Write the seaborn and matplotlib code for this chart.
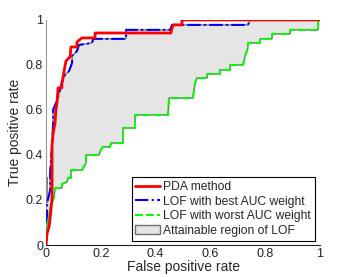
import numpy as np
import pandas as pd
import matplotlib
matplotlib.use("Agg")
import matplotlib.pyplot as plt
import seaborn as sns

# ROC vertices (step curves)
pda_fpr = [0, 0.004, 0.011, 0.015, 0.018, 0.022, 0.022, 0.026, 0.033, 0.036, 0.04, 0.044, 0.058, 0.058,
           0.066, 0.073, 0.088, 0.091, 0.113, 0.113, 0.131, 0.179, 0.179, 0.456, 0.46, 0.464, 0.496, 0.496, 1.0]
pda_tpr = [0, 0.053, 0.08, 0.12, 0.156, 0.209, 0.444, 0.498, 0.542, 0.6, 0.631, 0.698, 0.698, 0.72,
           0.773, 0.818, 0.836, 0.88, 0.88, 0.902, 0.92, 0.92, 0.942, 0.942, 0.964, 0.978, 0.978, 1.0, 1.0]

best_fpr = [0, 0, 0.004, 0.004, 0.011, 0.015, 0.015, 0.018, 0.022, 0.026, 0.026, 0.033, 0.04, 0.051,
            0.058, 0.069, 0.084, 0.095, 0.095, 0.113, 0.12, 0.168, 0.172, 0.292, 0.292, 0.453, 0.46,
            0.737, 0.745, 1.0]
best_tpr = [0, 0.058, 0.102, 0.187, 0.222, 0.244, 0.32, 0.378, 0.444, 0.542, 0.6, 0.622, 0.64, 0.689,
            0.72, 0.756, 0.773, 0.809, 0.84, 0.862, 0.889, 0.898, 0.916, 0.916, 0.956, 0.956, 0.978,
            0.978, 1.0, 1.0]

worst_fpr = [0, 0, 0.007, 0.015, 0.018, 0.029, 0.033, 0.058, 0.058, 0.077, 0.08, 0.091, 0.091, 0.131,
             0.146, 0.146, 0.193, 0.2, 0.208, 0.234, 0.237, 0.281, 0.281, 0.325, 0.325, 0.445, 0.449,
             0.536, 0.544, 0.551, 0.588, 0.588, 0.635, 0.635, 0.672, 0.672, 0.719, 0.726, 0.737, 0.737,
             0.781, 0.781, 0.825, 0.825, 0.891, 0.891, 0.993, 0.993, 1.0]
worst_tpr = [0, 0.076, 0.102, 0.156, 0.178, 0.209, 0.253, 0.253, 0.271, 0.28, 0.298, 0.298, 0.333, 0.333,
             0.364, 0.4, 0.4, 0.422, 0.436, 0.436, 0.453, 0.453, 0.52, 0.52, 0.578, 0.578, 0.653,
             0.653, 0.72, 0.742, 0.742, 0.76, 0.76, 0.778, 0.778, 0.8, 0.8, 0.836, 0.876, 0.898,
             0.898, 0.916, 0.916, 0.938, 0.938, 0.956, 0.956, 0.996, 1.0]

# upper edge of the attainable region (mostly the best curve, steeper near the axis)
upper_fpr = [0, 0, 0.004] + best_fpr[3:]
upper_tpr = [0, 0.25, 0.30] + best_tpr[3:]

sns.set_style("white")
plt.rcParams['font.family'] = ['Liberation Sans', 'DejaVu Sans']

fig = plt.figure(figsize=(3.54, 2.77), dpi=100)
ax = fig.add_axes([0.130, 0.1155, 0.774, 0.8125])

# attainable region polygon: upper edge then lower edge reversed
poly_x = upper_fpr + worst_fpr[::-1]
poly_y = upper_tpr + worst_tpr[::-1]
ax.fill(poly_x, poly_y, facecolor='#e5e5e5', edgecolor='#6e6e6e', linewidth=1.0,
        label='Attainable region of LOF', zorder=1)

sns.lineplot(x=pda_fpr, y=pda_tpr, sort=False, estimator=None, color='#ff0000', lw=2.0,
             label='PDA method', ax=ax, zorder=4)
sns.lineplot(x=best_fpr, y=best_tpr, sort=False, estimator=None, color='#0000ff', lw=1.5,
             linestyle='-.', label='LOF with best AUC weight', ax=ax, zorder=3)
sns.lineplot(x=worst_fpr, y=worst_tpr, sort=False, estimator=None, color='#00ff00', lw=1.5,
             linestyle='--', label='LOF with worst AUC weight', ax=ax, zorder=3)

ax.set_xlim(0, 1)
ax.set_ylim(0, 1)
ticks = [0, 0.2, 0.4, 0.6, 0.8, 1]
ax.set_xticks(ticks)
ax.set_yticks(ticks)
ax.set_xticklabels(['0', '0.2', '0.4', '0.6', '0.8', '1'])
ax.set_yticklabels(['0', '0.2', '0.4', '0.6', '0.8', '1'])
ax.tick_params(direction='in', length=3, width=0.6, labelsize=9, pad=2, colors='#222222')
ax.set_xlabel('False positive rate', fontsize=10, labelpad=0)
ax.set_ylabel('True positive rate', fontsize=10, labelpad=3)

for s in ['top', 'right']:
    ax.spines[s].set_visible(False)
ax.spines['left'].set_color('#999999')
ax.spines['bottom'].set_color('#222222')
ax.spines['left'].set_linewidth(0.8)
ax.spines['bottom'].set_linewidth(0.8)

handles, labels = ax.get_legend_handles_labels()
order = [labels.index(l) for l in ['PDA method', 'LOF with best AUC weight',
                                    'LOF with worst AUC weight', 'Attainable region of LOF']]
leg = ax.legend([handles[i] for i in order], [labels[i] for i in order],
                loc='lower right', bbox_to_anchor=(0.98, 0.02), fontsize=8.7, frameon=True,
                fancybox=False, edgecolor='black', framealpha=1, borderpad=0.3,
                labelspacing=0.22, handlelength=2.0, handletextpad=0.3, borderaxespad=0)
leg.get_frame().set_linewidth(0.8)

fig.savefig('out.png', dpi=100)
